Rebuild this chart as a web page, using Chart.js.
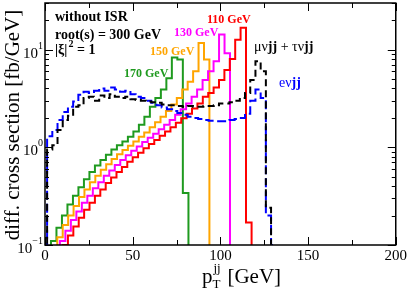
<!DOCTYPE html>
<html>
<head>
<meta charset="utf-8">
<script src="https://cdn.jsdelivr.net/npm/chart.js@4.4.1/dist/chart.umd.min.js"></script>
<style>
  html, body { margin: 0; padding: 0; background: #fff; }
</style>
</head>
<body>
<canvas id="chart" width="409" height="294"></canvas>
<script>
// ─── Data ───────────────────────────────────────────────────────────────────

// x axis: p_T^jj [GeV]
const xTicks = [0, 50, 100, 150, 200];
const xMinorTicks = [25, 75, 125, 175];
// y axis: decades shown as 10^n
const yDecades = [-1, 0, 1];

// each histogram: first edge, last edge, bin values, then tail bins [right edge, value]
const green170Start = 3.4, green170End = 78.6;
const green170 = [0.11, 0.15, 0.2, 0.26, 0.32, 0.39, 0.47, 0.56, 0.65, 0.74, 0.84, 0.95,
  1.05, 1.15, 1.28, 1.45, 1.7, 2.05, 2.6, 3.2, 3.9, 5.1, 8.3, 7.9];
const green170Tail = [[81.8, 0.34]];

const orange150Start = 7.0, orange150End = 93.75;
const orange150 = [0.12, 0.16, 0.2, 0.25, 0.31, 0.37, 0.44, 0.51, 0.59, 0.67, 0.76, 0.85,
  0.94, 1.04, 1.15, 1.28, 1.42, 1.6, 1.8, 2.05, 2.35, 2.75, 3.2, 3.9, 4.7, 6.0, 11.7, 7.9];

const magenta130Start = 8.5, magenta130End = 105.5;
const magenta130 = [0.11, 0.14, 0.18, 0.22, 0.27, 0.32, 0.38, 0.44, 0.51, 0.58, 0.66, 0.74,
  0.83, 0.92, 1.02, 1.13, 1.25, 1.38, 1.53, 1.7, 1.9, 2.15, 2.45, 2.8, 3.3, 3.9, 4.9, 6.0,
  7.6, 14.3, 9.2];

const red110Start = 10.0, red110End = 114.6;
const red110 = [0.10, 0.125, 0.155, 0.19, 0.23, 0.27, 0.32, 0.37, 0.43, 0.49, 0.56, 0.63,
  0.71, 0.79, 0.88, 0.98, 1.08, 1.19, 1.31, 1.45, 1.6, 1.78, 1.98, 2.2, 2.5, 2.8, 3.3, 3.6,
  4.1, 4.9, 6.2, 8.0, 12.6, 16.7];
const red110Tail = [[117.8, 0.17]];

const munuStart = 1.2, munuEnd = 125.94;
const munu = [0.95, 1.05, 1.5, 1.9, 2.1, 2.6, 2.7, 3.2, 3.3, 3.0, 3.4, 3.2, 3.5, 3.3, 3.2,
  3.3, 3.1, 3.05, 3.0, 2.95, 2.9, 2.85, 2.75, 2.7, 2.7, 2.65, 2.6, 2.65, 2.6, 2.6, 2.65,
  2.65, 2.7, 2.8, 2.8, 2.9, 3.0, 3.2, 3.6, 4.9, 7.6, 6.0];
const munuTail = [[128.9, 0.24]];

const enuStart = 1.2, enuEnd = 125.94;
const enu = [1.3, 1.5, 1.9, 2.3, 2.6, 2.95, 3.45, 3.7, 3.6, 3.8, 4.0, 3.8, 4.1, 3.9, 3.7,
  3.8, 3.5, 3.3, 3.2, 3.0, 2.85, 2.7, 2.55, 2.45, 2.35, 2.25, 2.15, 2.05, 2.0, 1.95, 1.9,
  1.87, 1.85, 1.85, 1.85, 1.9, 1.95, 2.0, 2.2, 3.0, 3.9, 3.2];
const enuTail = [[128.9, 0.2], [132.0, 0.1]];

// ─── Helpers ────────────────────────────────────────────────────────────────

const FLOOR = 0.01; // below the axis minimum, clipped away
const SERIF = '"Liberation Serif", "DejaVu Serif", serif';

// histogram outline as step points (stepped: 'before' = horizontal first, then vertical)
function histPoints(start, end, vals, tail) {
  const w = (end - start) / vals.length;
  const pts = [{ x: start, y: FLOOR }];
  vals.forEach((v, i) => pts.push({ x: start + i * w, y: v }));
  let x = end;
  (tail || []).forEach(([x1, v]) => { pts.push({ x, y: v }); x = x1; });
  pts.push({ x, y: FLOOR });
  return pts;
}

function hist(label, color, pts, dash) {
  return {
    label, data: pts,
    borderColor: color, borderWidth: 2,
    borderDash: dash || [],
    stepped: 'before', pointRadius: 0, fill: false,
  };
}

// ─── Frame, inward ticks, y labels, titles, annotations ─────────────────────

const framePlugin = {
  id: 'frame',
  afterDraw(chart) {
    const { ctx, chartArea: a, scales: { x, y } } = chart;
    ctx.save();
    ctx.strokeStyle = '#000';
    ctx.lineWidth = 1.5;
    ctx.strokeRect(a.left, a.top, a.right - a.left, a.bottom - a.top);

    ctx.lineWidth = 1;
    ctx.beginPath();
    xTicks.concat(xMinorTicks).forEach(v => {
      const px = Math.round(x.getPixelForValue(v)) + 0.5;
      const len = xTicks.includes(v) ? 8 : 5;
      ctx.moveTo(px, a.bottom); ctx.lineTo(px, a.bottom - len);
      ctx.moveTo(px, a.top); ctx.lineTo(px, a.top + len);
    });
    yDecades.forEach(d => {
      for (let m = 1; m <= 9; m++) {
        const v = m * Math.pow(10, d);
        if (v > y.max + 1e-9) break;
        const py = Math.round(y.getPixelForValue(v)) + 0.5;
        const len = m === 1 ? 8 : 4;
        ctx.moveTo(a.left, py); ctx.lineTo(a.left + len, py);
        ctx.moveTo(a.right, py); ctx.lineTo(a.right - len, py);
      }
    });
    ctx.stroke();

    // y tick labels 10^n
    ctx.fillStyle = '#000';
    yDecades.forEach(d => {
      const py = y.getPixelForValue(Math.pow(10, d));
      const exp = d < 0 ? '\u2212' + Math.abs(d) : String(d);
      ctx.font = '10px ' + SERIF;
      const ew = ctx.measureText(exp).width;
      ctx.textAlign = 'left';
      ctx.textBaseline = 'alphabetic';
      const ex = a.left - 2 - ew;
      ctx.fillText(exp, ex, py - 1);
      ctx.font = '15px ' + SERIF;
      ctx.textAlign = 'right';
      ctx.fillText('10', ex, py + 8);
    });

    // axis titles
    ctx.save();
    ctx.translate(19, (a.top + a.bottom) / 2 + 1);
    ctx.rotate(-Math.PI / 2);
    ctx.font = '21px ' + SERIF;
    ctx.textAlign = 'center';
    ctx.textBaseline = 'alphabetic';
    ctx.fillText('diff. cross section [fb/GeV]', 0, 0);
    ctx.restore();

    ctx.textAlign = 'left';
    ctx.textBaseline = 'alphabetic';
    let tx = 202;
    ctx.font = '21px ' + SERIF;
    ctx.fillText('p', tx, 283);
    tx += ctx.measureText('p').width;
    ctx.font = '13px ' + SERIF;
    ctx.fillText('T', tx, 288);
    ctx.fillText('jj', tx + 1, 272);
    tx += ctx.measureText('T').width + 7;
    ctx.font = '21px ' + SERIF;
    ctx.fillText('[GeV]', tx, 283);

    // annotations
    ctx.font = 'bold 14px ' + SERIF;
    ctx.fillText('without ISR', 55, 21);
    ctx.fillText('root(s) = 300 GeV', 55, 39);
    ctx.fillText('|\u03be|', 55, 54);
    let w = ctx.measureText('|\u03be|').width;
    ctx.font = 'bold 10px ' + SERIF;
    ctx.fillText('2', 55 + w + 1, 47);
    ctx.font = 'bold 14px ' + SERIF;
    ctx.fillText(' = 1', 55 + w + 6, 54);

    ctx.font = 'bold 12px ' + SERIF;
    ctx.fillStyle = '#1f9a1f'; ctx.fillText('170 GeV', 124, 77);
    ctx.fillStyle = '#ffa500'; ctx.fillText('150 GeV', 150, 55);
    ctx.fillStyle = '#ff00ff'; ctx.fillText('130 GeV', 174, 36);
    ctx.fillStyle = '#ff0000'; ctx.fillText('110 GeV', 207, 23);

    // mixed-weight labels
    const runs = (x0, yb, color, parts) => {
      ctx.fillStyle = color;
      let cx = x0;
      parts.forEach(([txt, bold]) => {
        ctx.font = (bold ? 'bold ' : '') + '14px ' + SERIF;
        ctx.fillText(txt, cx, yb);
        cx += ctx.measureText(txt).width;
      });
    };
    runs(254, 51, '#000', [['\u03bc\u03bd', false], ['jj', true], [' + \u03c4\u03bd', false], ['jj', true]]);
    runs(279, 87, '#0000ff', [['e\u03bd', false], ['jj', true]]);
    ctx.restore();
  }
};

// ─── Chart ──────────────────────────────────────────────────────────────────

const ctx = document.getElementById('chart').getContext('2d');
new Chart(ctx, {
  type: 'line',
  data: {
    datasets: [
      hist('\u03bc\u03bdjj + \u03c4\u03bdjj', '#000000', histPoints(munuStart, munuEnd, munu, munuTail), [7, 4]),
      hist('e\u03bdjj', '#0000ff', histPoints(enuStart, enuEnd, enu, enuTail), [9, 4]),
      hist('110 GeV', '#ff0000', histPoints(red110Start, red110End, red110, red110Tail)),
      hist('130 GeV', '#ff00ff', histPoints(magenta130Start, magenta130End, magenta130)),
      hist('150 GeV', '#ffa500', histPoints(orange150Start, orange150End, orange150)),
      hist('170 GeV', '#1f9a1f', histPoints(green170Start, green170End, green170, green170Tail)),
    ],
  },
  options: {
    responsive: false,
    animation: false,
    devicePixelRatio: 1,
    layout: { padding: { top: 3, right: 12, left: 0, bottom: 0 } },
    plugins: { legend: { display: false }, tooltip: { enabled: false } },
    scales: {
      x: {
        type: 'linear', min: 0, max: 200,
        grid: { display: false, drawTicks: false },
        border: { display: false },
        ticks: {
          stepSize: 25, autoSkip: false, maxRotation: 0, padding: 2,
          color: '#000', font: { family: SERIF, size: 15 },
          callback: v => (xTicks.includes(v) ? String(v) : ''),
        },
        afterFit: s => { s.height = 49; },
      },
      y: {
        type: 'logarithmic', min: 0.1, max: 30,
        grid: { display: false, drawTicks: false },
        border: { display: false },
        ticks: { display: false },
        afterFit: s => { s.width = 45; },
      },
    },
  },
  plugins: [framePlugin],
});
</script>
</body>
</html>
